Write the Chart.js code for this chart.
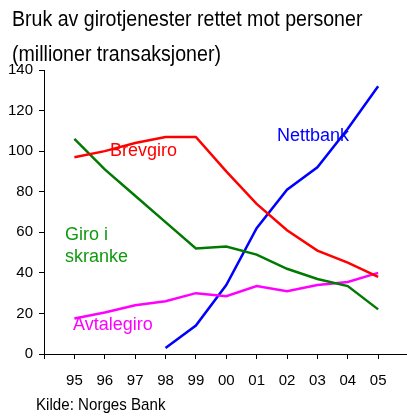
<!DOCTYPE html>
<html>
<head>
<meta charset="utf-8">
<script src="https://cdn.jsdelivr.net/npm/chart.js@4"></script>
<style>
  html, body { margin: 0; padding: 0; background: #fff; }
  #wrap { position: relative; width: 407px; height: 419px; overflow: hidden; }
  #chart { position: absolute; left: 0; top: 0; }
  .txt { position: absolute; white-space: nowrap; line-height: 1; }
  .narrow { font-family: "Liberation Sans Narrow", "Liberation Sans", Arial, sans-serif; color: #000; transform-origin: left top; }
  .lbl { font-family: "Liberation Sans", Arial, sans-serif; font-size: 18px; }
</style>
</head>
<body>
<div id="wrap">
  <canvas id="chart" width="407" height="419"></canvas>
  <div class="txt narrow" style="left:12px; top:8px; font-size:22px; transform:scaleX(0.89);">Bruk av girotjenester rettet mot personer</div>
  <div class="txt narrow" style="left:12px; top:43px; font-size:22px; transform:scaleX(0.89);">(millioner transaksjoner)</div>
  <div class="txt narrow" style="left:36px; top:396px; font-size:17px; transform:scaleX(0.89);">Kilde: Norges Bank</div>
  <div class="txt lbl" style="left:110px; top:141px; color:#ff0000;">Brevgiro</div>
  <div class="txt lbl" style="left:277px; top:126px; color:#0000ff;">Nettbank</div>
  <div class="txt lbl" style="left:65px; top:225px; color:#109a10;">Giro i</div>
  <div class="txt lbl" style="left:65px; top:247px; color:#109a10;">skranke</div>
  <div class="txt lbl" style="left:73px; top:315px; color:#ff00ff;">Avtalegiro</div>
</div>
<script>
// tick labels for the years 1995-2005
const years = ['95', '96', '97', '98', '99', '00', '01', '02', '03', '04', '05'];

// million transactions per year
const brevgiro    = [97, 100, 104, 107, 107, 90, 74, 61, 51, 45, 38];
const giroSkranke = [106, 91, 78, 65, 52, 53, 49, 42, 37, 33.5, 22];
const avtalegiro  = [17.5, 20.5, 24, 26, 30, 28.5, 33.5, 31, 34, 35.5, 40];
const nettbank    = [null, null, null, 3, 14, 34, 62, 81, 92, 111, 132];

function toPoints(values) {
    const pts = [];
    values.forEach(function(v, i) {
        if (v !== null) pts.push({ x: 95 + i, y: v });
    });
    return pts;
}

const lineStyle = { borderWidth: 2.5, pointRadius: 0, tension: 0, fill: false };
const tickFont = { family: '"Liberation Sans Narrow", "Liberation Sans", Arial', size: 15 };

new Chart(document.getElementById('chart'), {
    type: 'line',
    data: {
        datasets: [
            Object.assign({ label: 'Brevgiro', data: toPoints(brevgiro), borderColor: '#ff0000' }, lineStyle),
            Object.assign({ label: 'Giro i skranke', data: toPoints(giroSkranke), borderColor: '#007a00' }, lineStyle),
            Object.assign({ label: 'Avtalegiro', data: toPoints(avtalegiro), borderColor: '#ff00ff' }, lineStyle),
            Object.assign({ label: 'Nettbank', data: toPoints(nettbank), borderColor: '#0000ff' }, lineStyle)
        ]
    },
    options: {
        responsive: false,
        animation: false,
        events: [],
        layout: { padding: { top: 70, right: 0, left: 0, bottom: 0 } },
        plugins: {
            legend: { display: false },
            tooltip: { enabled: false }
        },
        scales: {
            x: {
                type: 'linear',
                min: 94,
                max: 105.95,
                afterBuildTicks: function(scale) {
                    // one tick at the y axis, then one per year
                    scale.ticks = [{ value: 94 }].concat(years.map((_, i) => ({ value: 95 + i })));
                },
                afterFit: function(scale) { scale.height = 65; },
                ticks: {
                    autoSkip: false,
                    maxRotation: 0,
                    padding: 13,
                    color: '#000',
                    font: tickFont,
                    callback: function(v) { return years[v - 95] || ''; }
                },
                grid: { drawOnChartArea: false, drawTicks: true, tickLength: 5, color: '#000', lineWidth: 1 },
                border: { color: '#000', width: 1 }
            },
            y: {
                min: 0,
                max: 140,
                afterFit: function(scale) { scale.width = 44; },
                ticks: {
                    stepSize: 20,
                    padding: 6,
                    color: '#000',
                    font: tickFont
                },
                grid: { drawOnChartArea: false, drawTicks: true, tickLength: 5, color: '#000', lineWidth: 1 },
                border: { color: '#000', width: 1 }
            }
        }
    }
});
</script>
</body>
</html>
